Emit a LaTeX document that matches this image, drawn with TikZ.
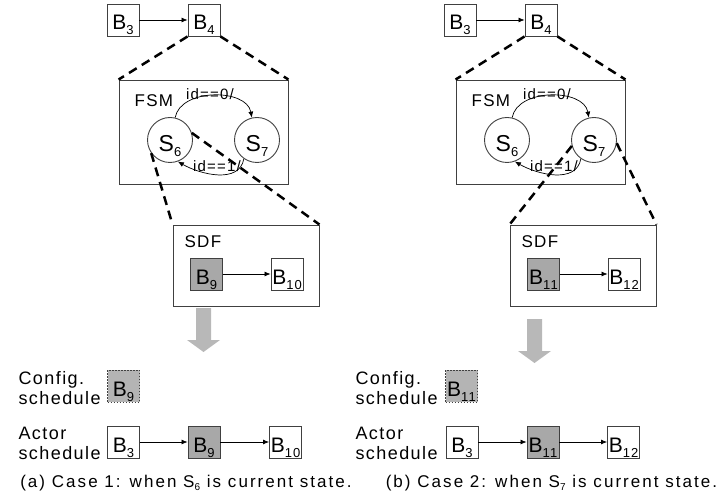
\documentclass[tikz,border=0pt]{standalone}
\usepackage{fontspec}
\setmainfont{Liberation Sans}[LetterSpace=8]
\usetikzlibrary{arrows.meta}
\definecolor{edgegray}{HTML}{404040}
\definecolor{blkgray}{HTML}{A8A8A8}
\definecolor{cfggray}{HTML}{B4B4B4}
\definecolor{arrowgray}{HTML}{B8B8B8}
\newcommand{\lowsub}[1]{\raisebox{-5pt}{\fontsize{13}{13}\selectfont #1}}
\newcommand{\capsub}[1]{\raisebox{-3pt}{\fontsize{10}{10}\selectfont #1}}
\tikzstyle{block}        = [draw=edgegray, line width=0.9pt, minimum size=32pt, inner sep=0pt, text height=21pt, text depth=1pt, font=\fontsize{21}{21}\selectfont]
\tikzstyle{active block} = [block, fill=blkgray]
\tikzstyle{config block} = [block, fill=cfggray, dash pattern=on 1.5pt off 1.5pt]
\tikzstyle{state}        = [circle, draw=edgegray, line width=0.9pt, minimum size=45pt, inner sep=0pt, text height=24pt, text depth=0pt, font=\fontsize{23}{23}\selectfont]
\tikzstyle{frame}        = [draw=edgegray, line width=0.9pt]
\tikzstyle{zoom line}    = [line width=2.5pt, dash pattern=on 9pt off 6pt]
\tikzstyle{flow}         = [-{Latex[length=6pt,width=5pt]}, line width=0.7pt]

\begin{document}
\begin{tikzpicture}[x=1pt, y=-1pt]
    \tikzstyle{title}=[anchor=base west, font=\fontsize{17}{17}\selectfont]
    \tikzstyle{guard}=[anchor=base, font=\fontsize{15}{15}\selectfont]
    \tikzstyle{row}=[anchor=base west, align=left, font=\fontsize{18}{20}\selectfont]
    \tikzstyle{caption}=[anchor=base, font=\fontsize{17}{17}\selectfont\addfontfeatures{LetterSpace=12}]
    \useasboundingbox (0,0) rectangle (727,502);

    % ---- Case 1 ----
    % Top level
    \node(b3L)[block] at (123,20) {B\lowsub{3}};
    \node(b4L)[block] at (204,20) {B\lowsub{4}};
    \draw[flow] (b3L) -- (b4L);

    % FSM refinement of B4
    \node(fsmL)[frame, minimum width=169pt, minimum height=104pt] at (203.5,132) {};
    \node(fsmtxtL)[title] at (131,107) {FSM};
    \node(s6L)[state] at (170,140) {S\lowsub{6}};
    \node(s7L)[state] at (257,140) {S\lowsub{7}};
    \draw[flow] (s6L.77) to[out=80, in=100] (s7L.103);
    \draw[flow] (s7L.-125) to[out=-100, in=-30] (s6L.-70);
    \node(g0L)[guard] at (210,100) {id==0/};
    \node(g1L)[guard] at (217,172) {id==1/};
    \draw[zoom line] (b4L.south west) -- (fsmL.north west);
    \draw[zoom line] (b4L.south east) -- (fsmL.north east);

    % SDF refinement of S6
    \node(sdfL)[frame, minimum width=146pt, minimum height=81pt] at (246,265.5) {};
    \node(sdftxtL)[title] at (181,248) {SDF};
    \node(b9L)[active block] at (206.5,274) {B\lowsub{9}};
    \node(b10L)[block] at (287,274) {B\lowsub{10}};
    \draw[flow] (b9L) -- (b10L);
    \draw[zoom line] (s6L.-145) -- (sdfL.north west);
    \draw[zoom line] (s6L.18) -- (sdfL.north east);

    % Down arrow
    \fill[arrowgray] (196,308) -- (211,308) -- (211,340) -- (220,340) -- (203.5,352) -- (187,340) -- (196,340) -- cycle;

    % Schedules (base = last line)
    \node(cfgtxtL)[row] at (15,404) {Config.\\schedule};
    \node(cfgL)[config block] at (123.5,386) {B\lowsub{9}};
    \node(acttxtL)[row] at (15,459) {Actor\\schedule};
    \node(a3L)[block] at (123.5,442) {B\lowsub{3}};
    \node(a9L)[active block] at (204,442) {B\lowsub{9}};
    \node(a10L)[block] at (285.5,442) {B\lowsub{10}};
    \draw[flow] (a3L) -- (a9L);
    \draw[flow] (a9L) -- (a10L);
    \node(capL)[caption] at (186,487) {(a) Case 1: when S\capsub{6} is current state.};

    % ---- Case 2 ----
    % Top level
    \node(b3R)[block] at (460,20) {B\lowsub{3}};
    \node(b4R)[block] at (541,20) {B\lowsub{4}};
    \draw[flow] (b3R) -- (b4R);

    % FSM refinement of B4
    \node(fsmR)[frame, minimum width=169pt, minimum height=104pt] at (540.5,132) {};
    \node(fsmtxtR)[title] at (468,107) {FSM};
    \node(s6R)[state] at (507,140) {S\lowsub{6}};
    \node(s7R)[state] at (594,140) {S\lowsub{7}};
    \draw[flow] (s6R.77) to[out=80, in=100] (s7R.103);
    \draw[flow] (s7R.-125) to[out=-100, in=-30] (s6R.-70);
    \node(g0R)[guard] at (547,100) {id==0/};
    \node(g1R)[guard] at (554,172) {id==1/};
    \draw[zoom line] (b4R.south west) -- (fsmR.north west);
    \draw[zoom line] (b4R.south east) -- (fsmR.north east);

    % SDF refinement of S7
    \node(sdfR)[frame, minimum width=146pt, minimum height=81pt] at (583,265.5) {};
    \node(sdftxtR)[title] at (518,248) {SDF};
    \node(b11R)[active block] at (543.5,274) {B\lowsub{11}};
    \node(b12R)[block] at (624,274) {B\lowsub{12}};
    \draw[flow] (b11R) -- (b12R);
    \draw[zoom line] (s7R.-165) -- (sdfR.north west);
    \draw[zoom line] (s7R.-8) -- (sdfR.north east);

    % Down arrow
    \fill[arrowgray] (527,319) -- (542,319) -- (542,351) -- (551,351) -- (534.5,363) -- (518,351) -- (527,351) -- cycle;

    % Schedules (base = last line)
    \node(cfgtxtR)[row] at (352,404) {Config.\\schedule};
    \node(cfgR)[config block] at (461.5,386) {B\lowsub{11}};
    \node(acttxtR)[row] at (352,459) {Actor\\schedule};
    \node(a3R)[block] at (462,442) {B\lowsub{3}};
    \node(a11R)[active block] at (543,442) {B\lowsub{11}};
    \node(a12R)[block] at (623.5,442) {B\lowsub{12}};
    \draw[flow] (a3R) -- (a11R);
    \draw[flow] (a11R) -- (a12R);
    \node(capR)[caption] at (551.5,487) {(b) Case 2: when S\capsub{7} is current state.};

\end{tikzpicture}
\end{document}
